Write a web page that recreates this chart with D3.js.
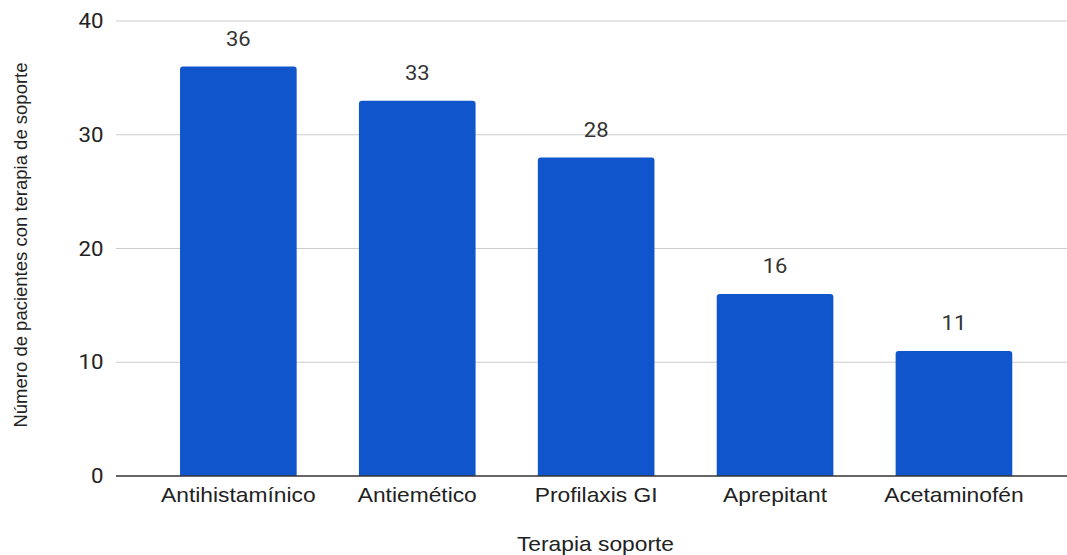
<!DOCTYPE html>
<html><head><meta charset="utf-8">
<script src="https://cdn.jsdelivr.net/npm/d3@7"></script>
<style>body{margin:0;background:#fff}svg{display:block}</style>
</head><body>
<script>
const categories = ["Antihistamínico","Antiemético","Profilaxis GI","Aprepitant","Acetaminofén"];
const values = [36,33,28,16,11];
const yTicks = [0,10,20,30,40];
const xTitle = "Terapia soporte";
const yTitle = "Número de pacientes con terapia de soporte";

const W=1067,H=555, SX=1.14;
const svg=d3.select("body").append("svg").attr("width",W).attr("height",H);
const x=d3.scaleBand().domain(categories).range([148.9,1043.4]).paddingInner(0.348).paddingOuter(0.174);
const y=d3.scaleLinear().domain([0,40]).range([476,21]);
const sans="'Liberation Sans', Arial, sans-serif", rob="Roboto, 'Liberation Sans', Arial, sans-serif";

svg.append("g").selectAll("line").data(yTicks.filter(d=>d>0)).join("line")
 .attr("x1",116).attr("x2",1067).attr("y1",d=>y(d)).attr("y2",d=>y(d))
 .attr("stroke","#cccccc").attr("stroke-width",1.2);

svg.append("g").selectAll("text").data(yTicks).join("text")
 .attr("transform",d=>`translate(103.5,${y(d)}) scale(${SX},1)`).attr("dy","0.36em").attr("text-anchor","end")
 .attr("font-family",rob).attr("font-size",19.5).attr("fill","#222")
 .text(d=>d);

const r=3;
svg.append("g").selectAll("path").data(values).join("path")
 .attr("fill","#1155cc")
 .attr("d",(d,i)=>{const x0=x(categories[i]),w=x.bandwidth(),y0=y(d),yb=y(0);
   return `M${x0},${yb}V${y0+r}Q${x0},${y0} ${x0+r},${y0}H${x0+w-r}Q${x0+w},${y0} ${x0+w},${y0+r}V${yb}Z`;});

svg.append("line").attr("x1",116).attr("x2",1067).attr("y1",y(0)).attr("y2",y(0))
 .attr("stroke","#333").attr("stroke-width",1.6);

svg.append("g").selectAll("text").data(values).join("text")
 .attr("transform",(d,i)=>`translate(${x(categories[i])+x.bandwidth()/2},${y(d)-21}) scale(1.1,1)`)
 .attr("text-anchor","middle")
 .attr("font-family",rob).attr("font-size",20).attr("fill","#333")
 .text(d=>d);

svg.append("g").selectAll("text").data(categories).join("text")
 .attr("transform",d=>`translate(${x(d)+x.bandwidth()/2},502) scale(${SX},1)`)
 .attr("text-anchor","middle")
 .attr("font-family",sans).attr("font-size",20).attr("fill","#222")
 .text(d=>d);

svg.append("text").attr("transform",`translate(595.5,551) scale(${SX},1)`).attr("text-anchor","middle")
 .attr("font-family",sans).attr("font-size",20).attr("fill","#222")
 .text(xTitle);
svg.append("text").attr("transform","translate(27,245) rotate(-90)").attr("text-anchor","middle")
 .attr("font-family",sans).attr("font-size",18.5).attr("fill","#222")
 .text(yTitle);
</script>
</body></html>
